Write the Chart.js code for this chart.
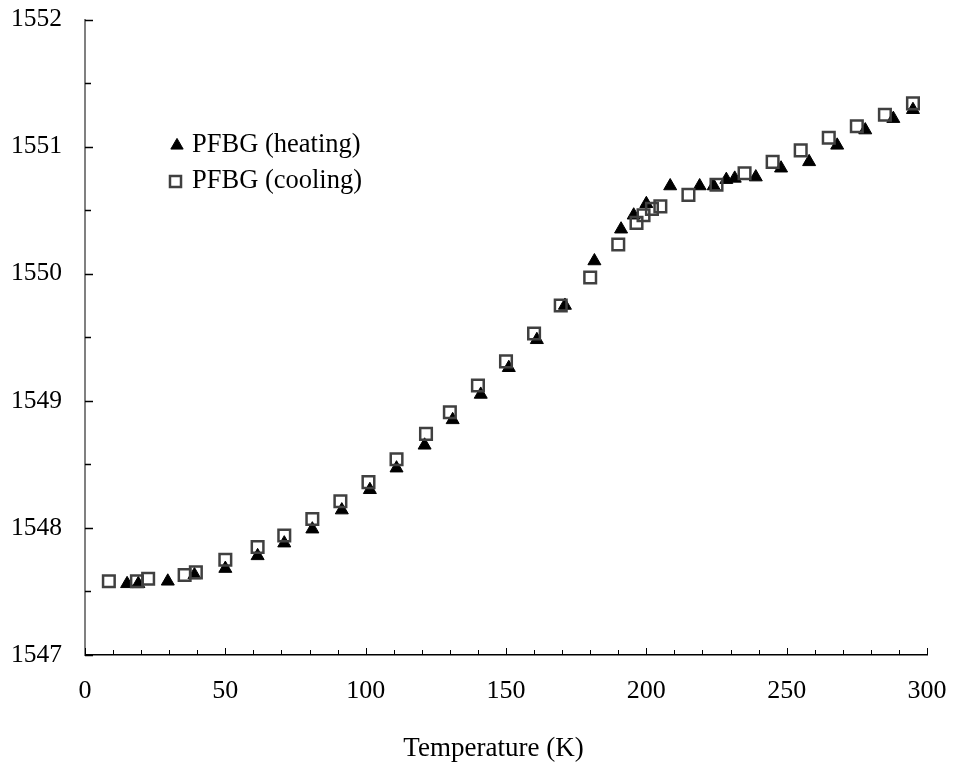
<!DOCTYPE html>
<html>
<head>
<meta charset="utf-8">
<script src="https://cdn.jsdelivr.net/npm/chart.js@4.4.1/dist/chart.umd.min.js"></script>
<style>
  html, body { margin: 0; padding: 0; background: #fff; }
  #wrap { width: 953px; height: 766px; position: relative; }
</style>
</head>
<body>
<div id="wrap"><canvas id="c" width="953" height="766"></canvas></div>
<script>
// ---- data ----
const heatingLabel = 'PFBG (heating)';
const coolingLabel = 'PFBG (cooling)';
const heatT  = [15, 19, 29.5, 39, 50, 61.5, 71, 81, 91.5, 101.5, 111, 121, 131, 141, 151, 161, 171, 181.5, 191, 195.5, 200, 208.5, 219, 224, 228.5, 231.5, 239, 248, 258, 268, 278, 288, 295];
const heatWl = [1547.56, 1547.56, 1547.58, 1547.63, 1547.68, 1547.78, 1547.88, 1547.99, 1548.14, 1548.30, 1548.47, 1548.65, 1548.85, 1549.05, 1549.26, 1549.48, 1549.75, 1550.10, 1550.35, 1550.46, 1550.55, 1550.69, 1550.69, 1550.69, 1550.74, 1550.75, 1550.76, 1550.83, 1550.88, 1551.01, 1551.13, 1551.22, 1551.29];
const coolT  = [8.5, 18.5, 22.5, 35.5, 39.5, 50, 61.5, 71, 81, 91, 101, 111, 121.5, 130, 140, 150, 160, 169.5, 180, 190, 196.5, 199, 202, 205, 215, 225, 235, 245, 255, 265, 275, 285, 295];
const coolWl = [1547.58, 1547.58, 1547.60, 1547.63, 1547.65, 1547.75, 1547.85, 1547.94, 1548.07, 1548.21, 1548.36, 1548.54, 1548.74, 1548.91, 1549.12, 1549.31, 1549.53, 1549.75, 1549.97, 1550.23, 1550.40, 1550.46, 1550.51, 1550.53, 1550.62, 1550.70, 1550.79, 1550.88, 1550.97, 1551.07, 1551.16, 1551.25, 1551.34];
const xTitle = 'Temperature (K)';
const xMin = 0, xMax = 300, xStep = 50, xMinor = 10;
const yMin = 1547, yMax = 1552, yStep = 1, yMinor = 0.5;

const FONT = '"Liberation Serif", "Times New Roman", serif';

const heatStyle = { pointStyle: 'triangle', radius: 7.5, bg: '#000', border: '#000', bw: 1 };
const coolStyle = { pointStyle: 'rect', radius: 8.2, bg: 'rgba(0,0,0,0)', border: '#404040', bw: 2.5 };

// inward tick marks, axis title and in-plot legend
const decor = {
  id: 'decor',
  afterDraw(chart) {
    const ctx = chart.ctx;
    const xs = chart.scales.x, ys = chart.scales.y;
    const a = chart.chartArea;
    ctx.save();
    ctx.strokeStyle = '#000';
    ctx.lineWidth = 1;
    for (let v = xMin; v <= xMax + 1e-9; v += xMinor) {
      const px = Math.round(xs.getPixelForValue(v)) + 0.5;
      const len = (Math.abs(v % xStep) < 1e-9) ? 7 : 5;
      ctx.beginPath(); ctx.moveTo(px, a.bottom); ctx.lineTo(px, a.bottom - len); ctx.stroke();
    }
    ctx.lineWidth = 1.5;
    for (let v = yMin; v <= yMax + 1e-9; v += yMinor) {
      const py = Math.round(ys.getPixelForValue(v)) + 0.5;
      const major = Math.abs((v - yMin) % yStep) < 1e-9;
      const len = major ? 8 : 6;
      ctx.beginPath(); ctx.moveTo(a.left, py); ctx.lineTo(a.left + len, py); ctx.stroke();
    }
    // x axis title
    ctx.fillStyle = '#000';
    ctx.font = '27px ' + FONT;
    ctx.textAlign = 'center';
    ctx.textBaseline = 'alphabetic';
    ctx.fillText(xTitle, 493.5, 756);
    // legend
    const items = [
      { label: chart.data.datasets[0].label, st: heatStyle, x: 177, y: 145.5, ty: 151.5 },
      { label: chart.data.datasets[1].label, st: coolStyle, x: 175.5, y: 181.5, ty: 187.5 }
    ];
    ctx.font = '26.5px ' + FONT;
    ctx.textBaseline = 'alphabetic';
    ctx.textAlign = 'left';
    items.forEach(it => {
      ctx.fillStyle = it.st.bg;
      ctx.strokeStyle = it.st.border;
      ctx.lineWidth = it.st.bw;
      Chart.helpers.drawPoint(ctx, { pointStyle: it.st.pointStyle, radius: it.st.radius * 0.95, rotation: 0, borderWidth: it.st.bw }, it.x, it.y);
      ctx.fillStyle = '#000';
      ctx.fillText(it.label, 192, it.ty);
    });
    ctx.restore();
  }
};

new Chart(document.getElementById('c'), {
  type: 'scatter',
  data: {
    datasets: [
      {
        label: heatingLabel,
        data: heatT.map((t, i) => ({ x: t, y: heatWl[i] })),
        pointStyle: heatStyle.pointStyle,
        pointRadius: heatStyle.radius,
        pointBackgroundColor: heatStyle.bg,
        pointBorderColor: heatStyle.border,
        pointBorderWidth: heatStyle.bw,
        order: 1
      },
      {
        label: coolingLabel,
        data: coolT.map((t, i) => ({ x: t, y: coolWl[i] })),
        pointStyle: coolStyle.pointStyle,
        pointRadius: coolStyle.radius,
        pointBackgroundColor: coolStyle.bg,
        pointBorderColor: coolStyle.border,
        pointBorderWidth: coolStyle.bw,
        order: 0
      }
    ]
  },
  options: {
    responsive: false,
    animation: false,
    events: [],
    layout: { padding: { top: 19.5, right: 26, left: 0, bottom: 0 } },
    plugins: { legend: { display: false }, tooltip: { enabled: false } },
    scales: {
      x: {
        type: 'linear', min: xMin, max: xMax,
        grid: { display: false, drawTicks: false },
        border: { display: true, color: '#000', width: 1.5 },
        ticks: { stepSize: xStep, color: '#000', padding: 21, maxRotation: 0, font: { family: FONT, size: 26 }, callback: v => String(v) },
        title: { display: false },
        afterFit(s) { s.height = 111; s.paddingLeft = 0; s.paddingRight = 0; }
      },
      y: {
        type: 'linear', min: yMin, max: yMax,
        grid: { display: false, drawTicks: false },
        border: { display: true, color: '#808080', width: 2 },
        ticks: { stepSize: yStep, color: '#000', padding: 23, font: { family: FONT, size: 25.5 }, callback: v => String(v) },
        afterFit(s) { s.width = 85; s.paddingTop = 0; s.paddingBottom = 0; }
      }
    }
  },
  plugins: [decor]
});
</script>
</body>
</html>
